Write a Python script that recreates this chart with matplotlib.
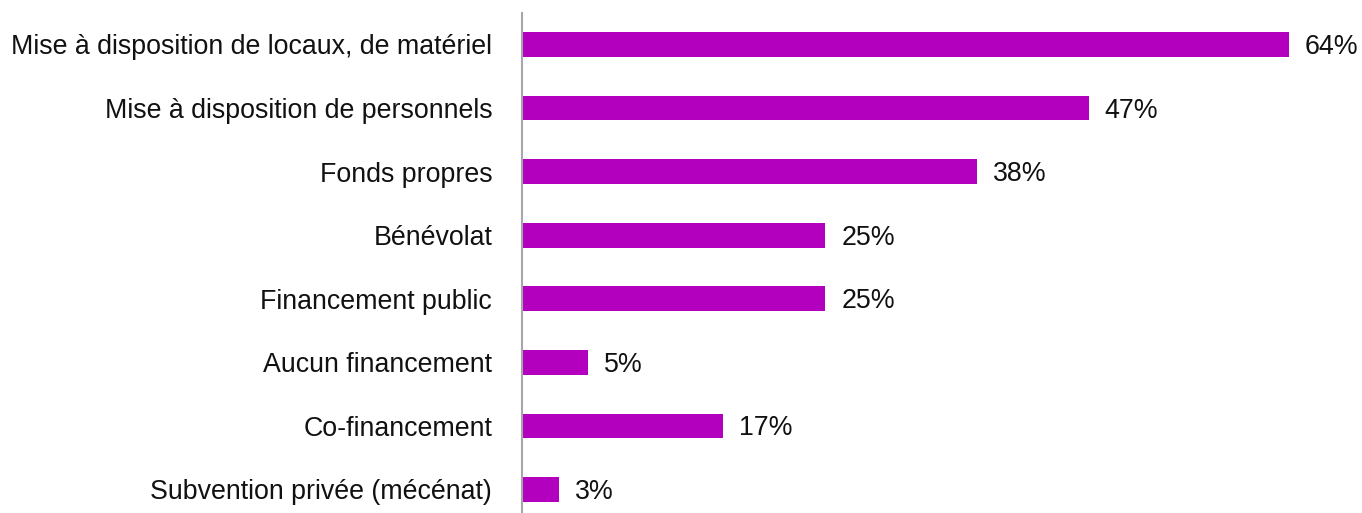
import matplotlib
matplotlib.use("Agg")
import matplotlib.pyplot as plt
from matplotlib import font_manager as fm

categories = [
    "Mise à disposition de locaux, de matériel",
    "Mise à disposition de personnels",
    "Fonds propres",
    "Bénévolat",
    "Financement public",
    "Aucun financement",
    "Co-financement",
    "Subvention privée (mécénat)",
]
# bar lengths (labels are rounded)
values = [64.0, 47.3, 38.0, 25.3, 25.3, 5.5, 16.8, 3.1]
value_labels = ["64%", "47%", "38%", "25%", "25%", "5%", "17%", "3%"]

FS = 19.3
fp = fm.FontProperties(family=["Liberation Sans", "DejaVu Sans"], size=FS)

W, H = 1362, 513
fig = plt.figure(figsize=(W / 100, H / 100), dpi=100)
ax = fig.add_axes([522 / W, 0, 1 - 522 / W, 1 - 13 / H])

color = "#B300BF"
pos = list(range(len(categories)))
ax.barh(pos, values, height=0.39, color=color)
for p, v, lab in zip(pos, values, value_labels):
    ax.annotate(lab, (v, p), xytext=(11.5, -1.8), textcoords="offset points",
                va="center", ha="left", fontproperties=fp, color="#111111")

ax.set_xlim(0, (W - 522) / ((1289 - 522) / 64))
ax.set_ylim(7.37, -0.495)
ax.set_yticks(pos)
ax.set_yticklabels(categories, fontproperties=fp, color="#111111")
ax.tick_params(axis="y", length=0, pad=21.5)
ax.set_xticks([])
for s in ["top", "right", "bottom"]:
    ax.spines[s].set_visible(False)
ax.spines["left"].set_color("#A6A6A6")
ax.spines["left"].set_linewidth(1.5)

fig.savefig("out.png", dpi=100)
